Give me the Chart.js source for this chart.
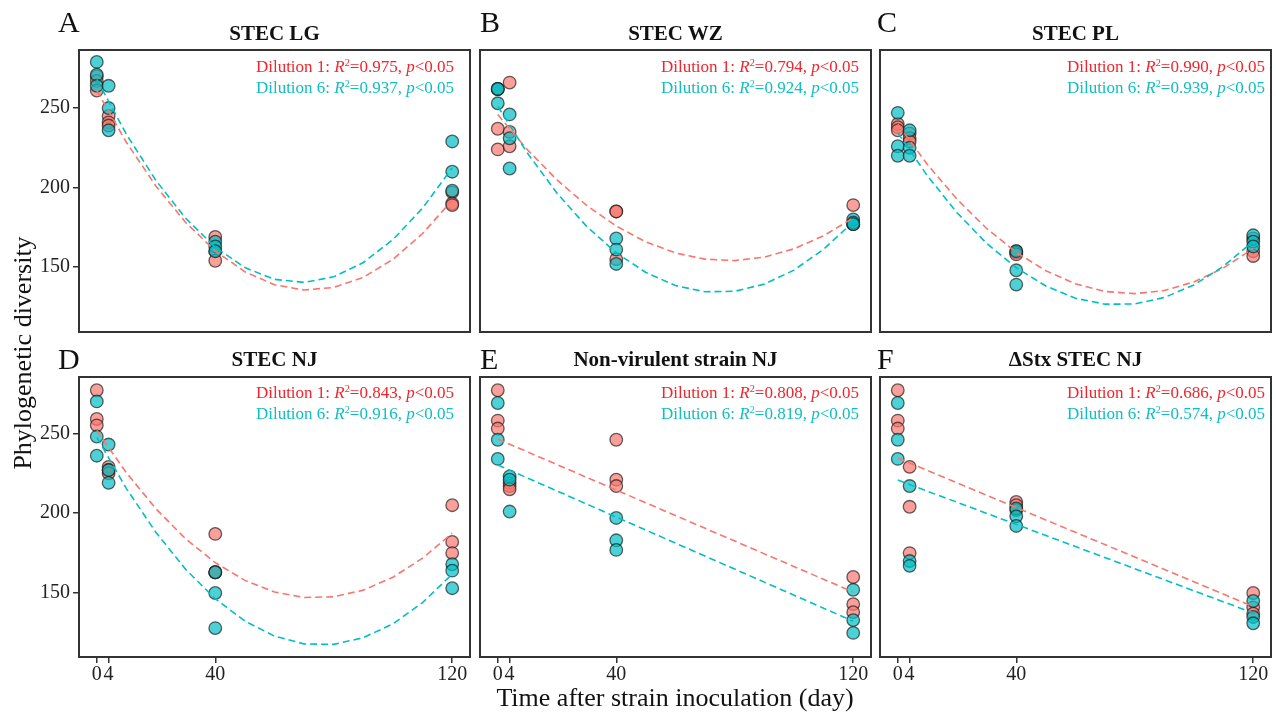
<!DOCTYPE html>
<html>
<head>
<meta charset="utf-8">
<script src="https://cdn.jsdelivr.net/npm/chart.js@4.4.0/dist/chart.umd.min.js"></script>
<style>
html, body { margin: 0; padding: 0; background: #fff; }
#fig { position: relative; width: 1276px; height: 714px; overflow: hidden;
       font-family: "Liberation Serif", "Times New Roman", serif; color: #111; }
#fig canvas { position: absolute; }
.lbl { position: absolute; white-space: nowrap; }
.letter { font-size: 30px; line-height: 30px; }
.ttl { font-size: 21px; line-height: 21px; font-weight: bold; text-align: center; width: 391px; }
.ann { font-size: 17px; line-height: 21px; text-align: right; }
.ann sup { font-size: 0.6em; line-height: 0; vertical-align: 0.6em; }
.axt { font-size: 26px; line-height: 26px; text-align: center; width: 500px; }
.red { color: #f2242c; }
.cyan { color: #10bdc2; }
</style>
</head>
<body>
<div id="fig"></div>
<script>
const days = [0, 4, 40, 120];
const xTicks = [0, 4, 40, 120];
const yTicks = [150, 200, 250];
const fitDays = [0, 10, 20, 30, 40, 50, 60, 70, 80, 90, 100, 110, 120];
const lineDays = [0, 120];

const panelLetters = ['A', 'B', 'C', 'D', 'E', 'F'];
const panelTitles = ['STEC LG', 'STEC WZ', 'STEC PL', 'STEC NJ', 'Non-virulent strain NJ', '\u0394Stx STEC NJ'];
const r2Dil1 = ['0.975', '0.794', '0.990', '0.843', '0.808', '0.686'];
const r2Dil6 = ['0.937', '0.924', '0.939', '0.916', '0.819', '0.574'];

// replicates at day 0, 4, 40, 120
const lgDil1 = [[270, 267, 261], [245, 241, 239], [169, 160, 154], [197, 190, 189]];
const lgDil6 = [[279, 271, 264], [264, 250, 236], [166, 163, 160], [229, 210, 198]];
const wzDil1 = [[262, 237, 224], [266, 235, 226], [185, 185, 155], [189, 177, 177]];
const wzDil6 = [[262, 262, 253], [246, 231, 212], [168, 161, 152], [180, 178, 177]];
const plDil1 = [[240, 238, 236], [234, 231, 229], [160, 159, 158], [168, 160, 157]];
const plDil6 = [[247, 226, 220], [236, 225, 220], [160, 148, 139], [170, 166, 163]];
const njDil1 = [[277, 259, 255], [229, 227, 225], [187, 163, 163], [205, 182, 175]];
const njDil6 = [[270, 248, 236], [243, 227, 219], [163, 150, 128], [168, 164, 153]];
const nvDil1 = [[277, 258, 253], [219, 217, 215], [246, 221, 217], [160, 143, 138]];
const nvDil6 = [[269, 246, 234], [223, 221, 201], [197, 183, 177], [152, 133, 125]];
const stxDil1 = [[277, 258, 253], [229, 204, 175], [207, 205, 202], [150, 141, 137]];
const stxDil6 = [[269, 246, 234], [217, 170, 167], [203, 198, 192], [145, 135, 131]];

// fitted curves
const lgFit1 = [261.0, 228.5, 200.9, 178.1, 160.2, 147.1, 138.9, 135.6, 137.2, 143.6, 154.9, 171.1, 192.1];
const lgFit6 = [268.1, 233.5, 204.4, 180.7, 162.5, 149.7, 142.3, 140.4, 143.9, 152.9, 167.3, 187.1, 212.4];
const wzFit1 = [245.9, 223.8, 204.8, 188.8, 175.8, 165.8, 158.9, 155.0, 154.1, 156.3, 161.5, 169.7, 180.9];
const wzFit6 = [251.1, 221.7, 196.5, 175.6, 159.0, 146.6, 138.4, 134.5, 134.8, 139.3, 148.1, 161.2, 178.4];
const plFit1 = [239.8, 214.5, 192.7, 174.3, 159.3, 147.7, 139.5, 134.7, 133.3, 135.3, 140.7, 149.5, 161.7];
const plFit6 = [234.4, 207.4, 184.2, 164.9, 149.6, 138.1, 130.4, 126.7, 126.8, 130.9, 138.8, 150.6, 166.2];
const njFit1 = [251.8, 225.3, 202.7, 183.9, 169.0, 157.9, 150.6, 147.2, 147.6, 151.8, 159.9, 171.8, 187.5];
const njFit6 = [247.5, 215.4, 187.9, 164.8, 146.4, 132.4, 123.0, 118.1, 117.8, 122.0, 130.7, 144.0, 161.8];
const nvFit1 = [246.4, 150.6];
const nvFit6 = [230.2, 132.3];
const stxFit1 = [234.5, 141.5];
const stxFit6 = [220.7, 137.5];

const panels = [
    {d1: lgDil1, d6: lgDil6, fx: fitDays, f1: lgFit1, f6: lgFit6},
    {d1: wzDil1, d6: wzDil6, fx: fitDays, f1: wzFit1, f6: wzFit6},
    {d1: plDil1, d6: plDil6, fx: fitDays, f1: plFit1, f6: plFit6},
    {d1: njDil1, d6: njDil6, fx: fitDays, f1: njFit1, f6: njFit6},
    {d1: nvDil1, d6: nvDil6, fx: lineDays, f1: nvFit1, f6: nvFit6},
    {d1: stxDil1, d6: stxDil6, fx: lineDays, f1: stxFit1, f6: stxFit6}
];

// layout of the plot boxes
const boxLeft = [79, 480, 880];
const boxTop = [50, 377];
const boxW = 391;
const boxH = [282, 280];
const yMin = [109.2, 109.9];
const yMax = [286.5, 285.3];
const padTop = 20; // more than chart.js reserves for the top y label
const letterLeft = [58, 480, 877];
const letterTop = [7, 344];
const titleTop = [23, 349];
const annRight = [454, 859, 1265];
const annTop = [55.5, 382];

const red = '#F8766D', cyan = '#00BFC4';
const fig = document.getElementById('fig');

function addLabel(cls, html, style){
    const d = document.createElement('div');
    d.className = 'lbl ' + cls;
    d.innerHTML = html;
    Object.assign(d.style, style);
    fig.appendChild(d);
    return d;
}

function toPoints(reps){
    const pts = [];
    reps.forEach((vals, i) => vals.forEach(v => pts.push({x: days[i], y: v})));
    return pts;
}

function toLine(xs, ys){
    return xs.map((x, i) => ({x: x, y: ys[i]}));
}

// full panel border like ggplot's panel.border
const boxPlugin = {
    id: 'box',
    afterDatasetsDraw(chart){
        const a = chart.chartArea, ctx = chart.ctx;
        ctx.save();
        ctx.strokeStyle = '#333';
        ctx.lineWidth = 2;
        ctx.strokeRect(a.left, a.top, a.right - a.left, a.bottom - a.top);
        ctx.restore();
    }
};

const tickFont = {family: '"Liberation Serif", "Times New Roman", serif', size: 20};

panels.forEach((p, i) => {
    const col = i % 3, row = Math.floor(i / 3);
    const showX = row == 1, showY = col == 0;

    const cv = document.createElement('canvas');
    cv.width = boxW + 68;
    cv.height = boxH[row] + padTop + 45;
    cv.style.left = (boxLeft[col] - 60) + 'px';
    cv.style.top = (boxTop[row] - padTop) + 'px';
    fig.appendChild(cv);

    new Chart(cv, {
        type: 'scatter',
        data: {
            datasets: [
                {data: toLine(p.fx, p.f6), showLine: true, pointRadius: 0, borderColor: cyan,
                 borderWidth: 1.6, borderDash: [7, 4], fill: false, order: 0},
                {data: toLine(p.fx, p.f1), showLine: true, pointRadius: 0, borderColor: red,
                 borderWidth: 1.6, borderDash: [7, 4], fill: false, order: 1},
                {data: toPoints(p.d6), pointRadius: 6.3, backgroundColor: 'rgba(0,191,196,0.7)',
                 borderColor: 'rgba(20,20,20,0.65)', borderWidth: 1.3, order: 2},
                {data: toPoints(p.d1), pointRadius: 6.3, backgroundColor: 'rgba(248,118,109,0.7)',
                 borderColor: 'rgba(20,20,20,0.65)', borderWidth: 1.3, order: 3}
            ]
        },
        options: {
            responsive: false,
            animation: false,
            devicePixelRatio: 1,
            layout: {padding: {left: 0, top: padTop, right: 8, bottom: 0}, autoPadding: false},
            plugins: {legend: {display: false}, tooltip: {enabled: false}},
            scales: {
                x: {
                    type: 'linear', min: -6, max: 126,
                    afterFit: s => { s.height = 45; },
                    afterBuildTicks: s => { s.ticks = xTicks.map(v => ({value: v})); },
                    // labels stay laid out on every panel, only shown on the bottom row
                    ticks: {autoSkip: false, maxRotation: 0, padding: 0, font: tickFont,
                            color: showX ? '#222' : 'rgba(0,0,0,0)'},
                    grid: {drawOnChartArea: false, drawTicks: showX, tickLength: 6,
                           color: '#333', lineWidth: 1.5},
                    border: {display: false}
                },
                y: {
                    type: 'linear', min: yMin[row], max: yMax[row],
                    afterFit: s => { s.width = 60; },
                    afterBuildTicks: s => { s.ticks = yTicks.map(v => ({value: v})); },
                    ticks: {padding: 3, font: tickFont,
                            color: showY ? '#222' : 'rgba(0,0,0,0)'},
                    grid: {drawOnChartArea: false, drawTicks: showY, tickLength: 6,
                           color: '#333', lineWidth: 1.5},
                    border: {display: false}
                }
            }
        },
        plugins: [boxPlugin]
    });

    addLabel('letter', panelLetters[i], {left: letterLeft[col] + 'px', top: letterTop[row] + 'px'});
    addLabel('ttl', panelTitles[i], {left: boxLeft[col] + 'px', top: titleTop[row] + 'px'});
    addLabel('ann',
        '<span class="red">Dilution 1: <i>R</i><sup>2</sup>=' + r2Dil1[i] + ', <i>p</i>&lt;0.05</span><br>' +
        '<span class="cyan">Dilution 6: <i>R</i><sup>2</sup>=' + r2Dil6[i] + ', <i>p</i>&lt;0.05</span>',
        {right: (1276 - annRight[col]) + 'px', top: annTop[row] + 'px'});
});

// shared axis titles
addLabel('axt', 'Time after strain inoculation (day)', {left: (675 - 250) + 'px', top: '685px'});
addLabel('axt', 'Phylogenetic diversity',
    {left: (23 - 250) + 'px', top: (353 - 13) + 'px', transform: 'rotate(-90deg)'});
</script>
</body>
</html>
